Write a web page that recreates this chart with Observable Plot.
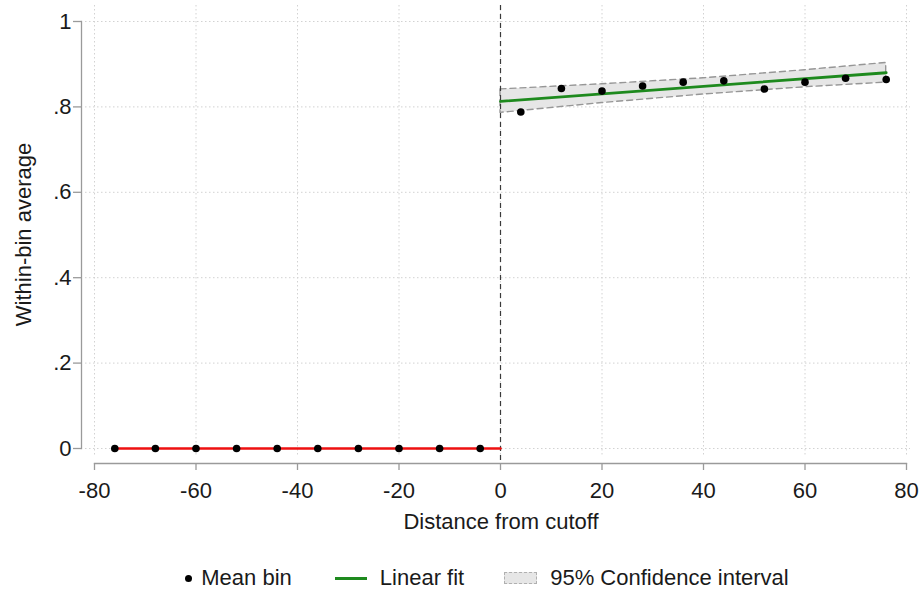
<!DOCTYPE html>
<html>
<head>
<meta charset="utf-8">
<script src="https://cdn.jsdelivr.net/npm/d3@7"></script>
<script src="https://cdn.jsdelivr.net/npm/@observablehq/plot@0.6"></script>
<style>
  html, body { margin: 0; padding: 0; background: #fff; }
  body { width: 922px; height: 592px; overflow: hidden; font-family: "Liberation Sans", Arial, sans-serif; }
  #legend { height: 76px; display: flex; justify-content: center; align-items: center; padding-left: 52px; box-sizing: border-box; font-size: 22px; color: #1a1a1a; }
  .item { display: flex; align-items: center; }
  .dot { width: 7px; height: 7px; border-radius: 50%; background: #000; margin-right: 9px; }
  .line { width: 32px; height: 3px; background: #1e8a1e; margin-right: 13px; }
  .box { width: 31px; height: 10px; background: #e6e6e6; border: 1px dashed #b0b0b0; margin-right: 13px; }
</style>
</head>
<body>
<div id="chart"></div>
<div id="legend"></div>
<script>
// ---- data ----
const binXLeft  = [-76, -68, -60, -52, -44, -36, -28, -20, -12, -4];
const binYLeft  = [0, 0, 0, 0, 0, 0, 0, 0, 0, 0];
const binXRight = [4, 12, 20, 28, 36, 44, 52, 60, 68, 76];
const binYRight = [0.788, 0.843, 0.837, 0.849, 0.858, 0.861, 0.842, 0.858, 0.867, 0.864];

const fitLeftX  = [-76, 0];
const fitLeftY  = [0, 0];
const fitRightX = [0, 76];
const fitRightY = [0.813, 0.880];

const ciX    = [0, 20, 40, 60, 76];
const ciLow  = [0.786, 0.809, 0.829, 0.846, 0.857];
const ciHigh = [0.841, 0.853, 0.867, 0.886, 0.903];

const xTicks = [-80, -60, -40, -20, 0, 20, 40, 60, 80];
const yTicks = [0, 0.2, 0.4, 0.6, 0.8, 1];
const yTickLabels = ["0", ".2", ".4", ".6", ".8", "1"];

const xTitle = "Distance from cutoff";
const yTitle = "Within-bin average";
const legendLabels = ["Mean bin", "Linear fit", "95% Confidence interval"];

// ---- tables built from the arrays ----
const bins = binXLeft.map((x, i) => ({x, y: binYLeft[i]}))
  .concat(binXRight.map((x, i) => ({x, y: binYRight[i]})));
const fitLeft = fitLeftX.map((x, i) => ({x, y: fitLeftY[i]}));
const fitRight = fitRightX.map((x, i) => ({x, y: fitRightY[i]}));
const ci = ciX.map((x, i) => ({x, lo: ciLow[i], hi: ciHigh[i]}));

const axisColor = "#9a9a9a";
const gridColor = "#d2d2d2";

const chart = Plot.plot({
  width: 922,
  height: 540,
  marginLeft: 81,
  marginRight: 10,
  marginTop: 5,
  marginBottom: 77,
  style: {fontFamily: "'Liberation Sans', Arial, sans-serif", color: "#1a1a1a", background: "#fff"},
  x: {domain: [-80, 80], range: [94, 906]},
  y: {domain: [0, 1], range: [448, 21]},
  marks: [
    Plot.gridX({ticks: xTicks, stroke: gridColor, strokeOpacity: 1, strokeDasharray: "1.5,2.5", insetBottom: 8}),
    Plot.gridY({ticks: yTicks, stroke: gridColor, strokeOpacity: 1, strokeDasharray: "1.5,2.5", insetLeft: 4, insetRight: 2}),
    Plot.frame({anchor: "left", stroke: axisColor, strokeWidth: 1.3, insetTop: 16, insetBottom: 15}),
    Plot.frame({anchor: "bottom", stroke: axisColor, strokeWidth: 1.3, insetLeft: 13, insetRight: 6}),
    Plot.axisY({ticks: yTicks, tickFormat: d => yTickLabels[yTicks.indexOf(d)], tickSize: 8, tickPadding: 2,
      fontSize: 22, stroke: axisColor, strokeWidth: 1.3, fill: "#1a1a1a", label: null}),
    Plot.axisX({ticks: xTicks, tickFormat: d => String(d), tickSize: 7, tickPadding: 12,
      fontSize: 22, stroke: axisColor, strokeWidth: 1.3, fill: "#1a1a1a", label: null}),
    Plot.areaY(ci, {x: "x", y1: "lo", y2: "hi", fill: "#e6e6e6", stroke: "#969696", strokeWidth: 1.4, strokeDasharray: "6,4", curve: "linear"}),
    Plot.ruleX([0], {stroke: "#3a3a3a", strokeWidth: 1.2, strokeDasharray: "5,4"}),
    Plot.line(fitLeft, {x: "x", y: "y", stroke: "#ee1111", strokeWidth: 2.6}),
    Plot.line(fitRight, {x: "x", y: "y", stroke: "#1e8a1e", strokeWidth: 2.8}),
    Plot.dot(bins, {x: "x", y: "y", r: 3.8, fill: "#000", stroke: "none"}),
    Plot.text([xTitle], {frameAnchor: "bottom", dx: 4, dy: 58, fontSize: 22, fill: "#1a1a1a", lineAnchor: "middle"}),
    Plot.text([yTitle], {frameAnchor: "left", textAnchor: "middle", dx: -58, dy: 0, rotate: -90, fontSize: 22, fill: "#1a1a1a", lineAnchor: "middle"})
  ]
});
document.getElementById("chart").appendChild(chart);

const lg = document.getElementById("legend");
const swatches = ["dot", "line", "box"];
const gaps = [43, 40, 0];
legendLabels.forEach((lab, i) => {
  const it = document.createElement("div");
  it.className = "item";
  it.style.marginRight = gaps[i] + "px";
  const sw = document.createElement("span");
  sw.className = swatches[i];
  it.appendChild(sw);
  const t = document.createElement("span");
  t.textContent = lab;
  it.appendChild(t);
  lg.appendChild(it);
});
</script>
</body>
</html>
